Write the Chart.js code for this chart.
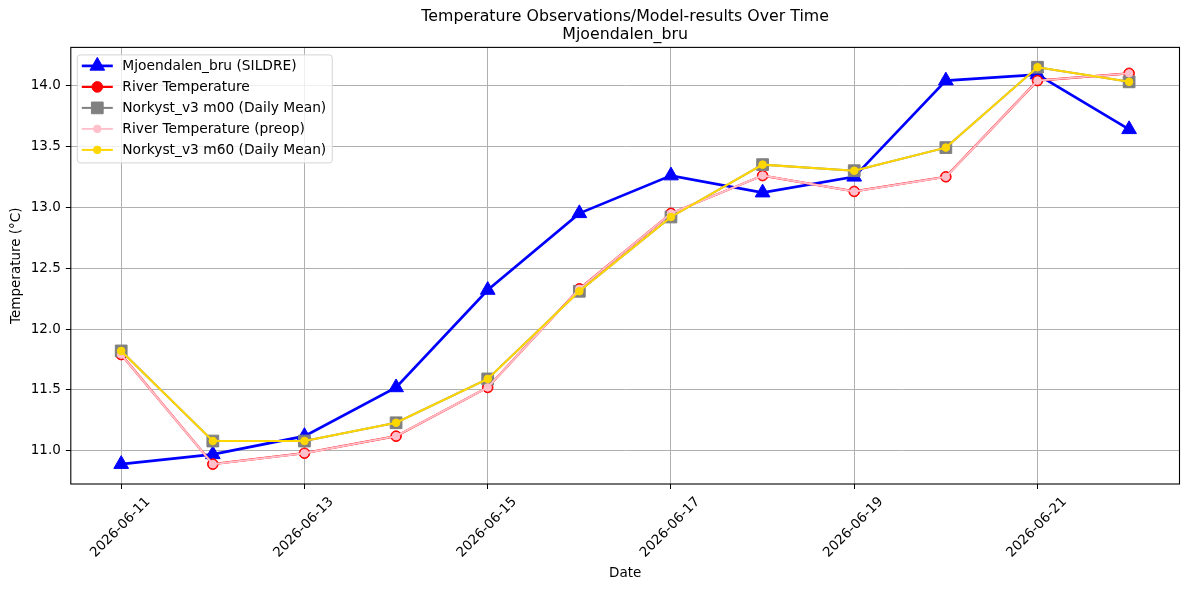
<!DOCTYPE html>
<html>
<head>
<meta charset="utf-8">
<title>Temperature Observations/Model-results Over Time</title>
<script src="https://cdn.jsdelivr.net/npm/chart.js@4.4.0/dist/chart.umd.min.js"></script>
<style>
  html, body { margin: 0; padding: 0; background: #fff; }
  #wrap { width: 1189px; height: 590px; }
</style>
</head>
<body>
<div id="wrap"><canvas id="tempChart" width="1189" height="590"></canvas></div>
<script>
// Data
const dates = ['2026-06-11', '2026-06-12', '2026-06-13', '2026-06-14', '2026-06-15', '2026-06-16',
               '2026-06-17', '2026-06-18', '2026-06-19', '2026-06-20', '2026-06-21', '2026-06-22'];
const sildre     = [10.89, 10.97, 11.12, 11.52, 12.32, 12.95, 13.26, 13.12, 13.25, 14.04, 14.09, 13.64];
const riverTemp  = [11.79, 10.89, 10.98, 11.12, 11.52, 12.33, 12.95, 13.26, 13.13, 13.25, 14.04, 14.10];
const riverPreop = [11.79, 10.89, 10.98, 11.12, 11.52, 12.33, 12.95, 13.26, 13.13, 13.25, 14.04, 14.10];
const norkystM00 = [11.82, 11.08, 11.08, 11.23, 11.59, 12.31, 12.92, 13.35, 13.30, 13.49, 14.15, 14.03];
const norkystM60 = [11.82, 11.08, 11.08, 11.23, 11.59, 12.31, 12.92, 13.35, 13.30, 13.49, 14.15, 14.03];

const titleLines = ['Temperature Observations/Model-results Over Time', 'Mjoendalen_bru'];

const FONT = 'DejaVu Sans';

function toPoints(values) {
    return values.map((v, i) => ({ x: i, y: v }));
}

// matplotlib style 5% margins
const allValues = [].concat(sildre, riverTemp, riverPreop, norkystM00, norkystM60);
const yLo = Math.min(...allValues), yHi = Math.max(...allValues);
const yPad = (yHi - yLo) * 0.05;
const xPad = (dates.length - 1) * 0.05;

// Datasets (order: lower value drawn on top)
const datasets = [
    {
        label: 'Mjoendalen_bru (SILDRE)',
        data: toPoints(sildre),
        borderColor: '#0000ff',
        backgroundColor: '#0000ff',
        borderWidth: 2.7,
        pointStyle: 'triangle',
        pointRadius: 8.5,
        pointBorderWidth: 1,
        order: 5
    },
    {
        label: 'River Temperature',
        data: toPoints(riverTemp),
        borderColor: '#ff0000',
        backgroundColor: '#ff0000',
        borderWidth: 2.2,
        pointStyle: 'circle',
        pointRadius: 5.3,
        pointBorderWidth: 1,
        order: 4
    },
    {
        label: 'Norkyst_v3 m00 (Daily Mean)',
        data: toPoints(norkystM00),
        borderColor: '#808080',
        backgroundColor: '#808080',
        borderWidth: 2,
        pointStyle: 'rect',
        pointRadius: 8.3,
        pointBorderWidth: 1,
        order: 3
    },
    {
        label: 'River Temperature (preop)',
        data: toPoints(riverPreop),
        borderColor: '#ffc0cb',
        backgroundColor: '#ffc0cb',
        borderWidth: 1.9,
        pointStyle: 'circle',
        pointRadius: 3.8,
        pointBorderWidth: 1,
        order: 2
    },
    {
        label: 'Norkyst_v3 m60 (Daily Mean)',
        data: toPoints(norkystM60),
        borderColor: '#ffd700',
        backgroundColor: '#ffd700',
        borderWidth: 2,
        pointStyle: 'circle',
        pointRadius: 3.8,
        pointBorderWidth: 1,
        order: 1
    }
];
datasets.forEach(ds => {
    ds.pointBackgroundColor = ds.backgroundColor;
    ds.pointBorderColor = ds.borderColor;
    ds.tension = 0;
    ds.fill = false;
    ds.pointHoverRadius = ds.pointRadius;
});

// draw one marker the way the chart does
function drawMarker(ctx, ds, x, y) {
    const r = ds.pointRadius;
    ctx.save();
    ctx.fillStyle = ds.pointBackgroundColor;
    ctx.strokeStyle = ds.pointBorderColor;
    ctx.lineWidth = ds.pointBorderWidth;
    ctx.beginPath();
    if (ds.pointStyle === 'triangle') {
        let rad = 0;
        ctx.moveTo(x + Math.sin(rad) * r, y - Math.cos(rad) * r);
        rad += Math.PI * 2 / 3;
        ctx.lineTo(x + Math.sin(rad) * r, y - Math.cos(rad) * r);
        rad += Math.PI * 2 / 3;
        ctx.lineTo(x + Math.sin(rad) * r, y - Math.cos(rad) * r);
        ctx.closePath();
    } else if (ds.pointStyle === 'rect') {
        const s = Math.SQRT1_2 * r;
        ctx.rect(x - s, y - s, 2 * s, 2 * s);
    } else {
        ctx.arc(x, y, r, 0, Math.PI * 2);
    }
    ctx.fill();
    ctx.stroke();
    ctx.restore();
}

// Frame around the plot area (spines)
const framePlugin = {
    id: 'frame',
    afterDatasetsDraw(chart) {
        const { ctx, chartArea: a } = chart;
        ctx.save();
        ctx.strokeStyle = '#000';
        ctx.lineWidth = 1.1;
        ctx.strokeRect(a.left, a.top, a.right - a.left, a.bottom - a.top);
        ctx.restore();
    }
};

// Legend inside the upper left corner, matplotlib style
const boxLegendPlugin = {
    id: 'boxLegend',
    afterDraw(chart) {
        const { ctx, chartArea: a } = chart;
        const items = chart.data.datasets;
        ctx.save();
        ctx.font = '13.8px "' + FONT + '"';
        let maxW = 0;
        items.forEach(ds => { maxW = Math.max(maxW, ctx.measureText(ds.label).width); });
        const x0 = a.left + 6.5;
        const y0 = a.top + 7.5;
        const rowH = 21;
        const w = 45 + maxW + 6;
        const h = 11 + (items.length - 1) * rowH + 13;
        ctx.beginPath();
        ctx.roundRect(x0, y0, w, h, 3);
        ctx.fillStyle = 'rgba(255,255,255,0.8)';
        ctx.fill();
        ctx.strokeStyle = '#d4d4d4';
        ctx.lineWidth = 1;
        ctx.stroke();
        items.forEach((ds, i) => {
            const y = y0 + 11 + i * rowH;
            ctx.beginPath();
            ctx.strokeStyle = ds.borderColor;
            ctx.lineWidth = ds.borderWidth;
            ctx.moveTo(x0 + 4.5, y);
            ctx.lineTo(x0 + 35.5, y);
            ctx.stroke();
            drawMarker(ctx, ds, x0 + 20, y);
            ctx.fillStyle = '#000';
            ctx.textAlign = 'left';
            ctx.textBaseline = 'middle';
            ctx.fillText(ds.label, x0 + 45, y + 0.5);
        });
        ctx.restore();
    }
};

const ctx = document.getElementById('tempChart').getContext('2d');
const chart = new Chart(ctx, {
    type: 'line',
    data: { datasets: datasets },
    options: {
        responsive: false,
        animation: false,
        devicePixelRatio: 1,
        layout: { padding: { left: 0, right: 8.5, top: 0, bottom: 0 } },
        plugins: {
            legend: { display: false },
            tooltip: { enabled: false },
            title: {
                display: true,
                text: titleLines,
                fullSize: false,
                color: '#000',
                font: { family: FONT, size: 15.8, weight: 'normal', lineHeight: 1.12 },
                padding: { top: 8, bottom: 4 }
            }
        },
        scales: {
            x: {
                type: 'linear',
                min: -xPad,
                max: dates.length - 1 + xPad,
                afterFit: scale => { scale.height = 106; },
                grid: {
                    color: '#b0b0b0',
                    lineWidth: 1,
                    tickColor: '#000',
                    tickLength: 5,
                    tickWidth: 1
                },
                border: { display: false },
                ticks: {
                    stepSize: 2,
                    includeBounds: false,
                    autoSkip: false,
                    minRotation: 45,
                    maxRotation: 45,
                    labelOffset: 27,
                    padding: 5,
                    color: '#000',
                    font: { family: FONT, size: 13.5 },
                    callback: value => dates[value] || ''
                },
                title: {
                    display: true,
                    text: 'Date',
                    color: '#000',
                    font: { family: FONT, size: 13.5 },
                    padding: { top: 4, bottom: 8 }
                }
            },
            y: {
                min: yLo - yPad,
                max: yHi + yPad,
                afterFit: scale => { scale.width = 70.8; },
                grid: {
                    color: '#b0b0b0',
                    lineWidth: 1,
                    tickColor: '#000',
                    tickLength: 5,
                    tickWidth: 1
                },
                border: { display: false },
                ticks: {
                    stepSize: 0.5,
                    includeBounds: false,
                    padding: 5,
                    color: '#000',
                    font: { family: FONT, size: 13.5 },
                    callback: value => value.toFixed(1)
                },
                title: {
                    display: true,
                    text: 'Temperature (°C)',
                    color: '#000',
                    font: { family: FONT, size: 13.5 },
                    padding: { top: 8, bottom: 4 }
                }
            }
        }
    },
    plugins: [framePlugin, boxLegendPlugin]
});
</script>
</body>
</html>
